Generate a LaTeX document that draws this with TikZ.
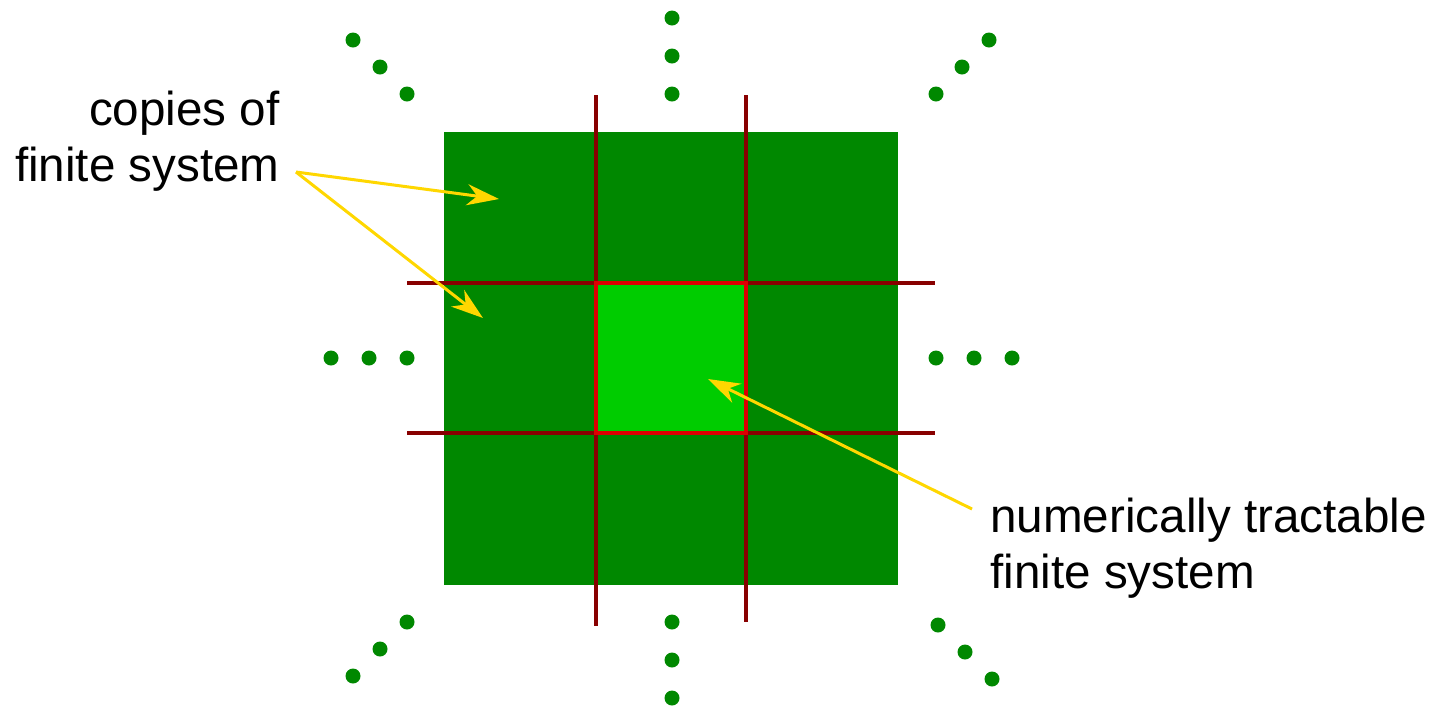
\documentclass[tikz,border=0pt]{standalone}
\usepackage{fontspec}
\setmainfont{Liberation Sans}
\usetikzlibrary{arrows.meta}
\definecolor{dkgreen}{RGB}{0,136,0}
\definecolor{ltgreen}{RGB}{0,204,0}
\definecolor{dkred}{RGB}{136,0,0}
\definecolor{brred}{RGB}{221,0,0}
\definecolor{gold}{RGB}{255,215,0}
\tikzset{
  dot/.style={circle,fill=dkgreen,inner sep=0pt,minimum size=7.5pt},
  gridline/.style={draw=dkred,line width=2pt},
  pointer/.style={draw=gold,line width=1.5pt,-{Stealth[length=16pt,width=10.5pt,inset=5pt]}},
  label/.style={inner sep=0pt,font=\fontsize{23.8}{27.8}\selectfont},
}
\begin{document}
\begin{tikzpicture}[x=0.5pt,y=-0.5pt]
\useasboundingbox (0,0) rectangle (1439,708);
% outer finite-system copies
\node[rectangle,fill=dkgreen,inner sep=0pt,minimum width=227pt,minimum height=226.5pt] (outer) at (671,358.5) {};
% grid lines
\coordinate (v1t) at (596,95);  \coordinate (v1b) at (596,626);
\coordinate (v2t) at (746,95);  \coordinate (v2b) at (746,622);
\coordinate (h1l) at (407,283); \coordinate (h1r) at (935,283);
\coordinate (h2l) at (407,433); \coordinate (h2r) at (935,433);
\draw[gridline] (v1t) -- (v1b);
\draw[gridline] (v2t) -- (v2b);
\draw[gridline] (h1l) -- (h1r);
\draw[gridline] (h2l) -- (h2r);
% central tractable system
\node[rectangle,fill=ltgreen,draw=brred,line width=2pt,inner sep=0pt,minimum width=75pt,minimum height=75pt] (inner) at (671,358) {};
% dots
\node[dot] (t1) at (672,18) {};  \node[dot] (t2) at (672,56) {};  \node[dot] (t3) at (672,94) {};
\node[dot] (tl1) at (353,40) {}; \node[dot] (tl2) at (380,67) {}; \node[dot] (tl3) at (407,94) {};
\node[dot] (tr1) at (989,40) {}; \node[dot] (tr2) at (962,67) {}; \node[dot] (tr3) at (936,94) {};
\node[dot] (l1) at (331,358) {}; \node[dot] (l2) at (369,358) {}; \node[dot] (l3) at (407,358) {};
\node[dot] (r1) at (936,358) {}; \node[dot] (r2) at (974,358) {}; \node[dot] (r3) at (1012,358) {};
\node[dot] (bl1) at (407,622) {}; \node[dot] (bl2) at (380,649) {}; \node[dot] (bl3) at (353,676) {};
\node[dot] (b1) at (672,622) {}; \node[dot] (b2) at (672,660) {}; \node[dot] (b3) at (672,698) {};
\node[dot] (br1) at (938,625) {}; \node[dot] (br2) at (965,652) {}; \node[dot] (br3) at (992,679) {};
% labels (base anchor = baseline of the last line)
\node[label,anchor=base east,align=right] (copies) at (280,181) {copies of\\finite system};
\node[label,anchor=base west,align=left] (tract) at (990,588) {numerically tractable\\finite system};
% arrows
\coordinate (cstart) at (296,172);
\coordinate (ctip1) at (499,199);
\coordinate (ctip2) at (483,318);
\coordinate (tstart) at (972,509);
\coordinate (ttip) at (708,379);
\draw[pointer] (cstart) -- (ctip1);
\draw[pointer] (cstart) -- (ctip2);
\draw[pointer] (tstart) -- (ttip);
\end{tikzpicture}
\end{document}
